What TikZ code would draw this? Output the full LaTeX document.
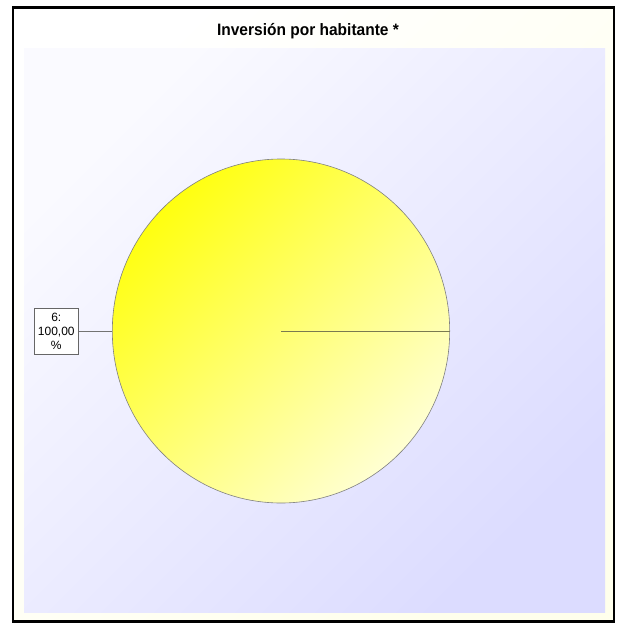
\documentclass[tikz,border=0pt]{standalone}
\usepackage{fontspec}
\setmainfont{Liberation Sans}
\usetikzlibrary{shapes.geometric}
\definecolor{panelbg}{HTML}{FFFFEC}
\definecolor{plotA}{HTML}{FAFAFF}
\definecolor{plotB}{HTML}{DCDCFF}
\definecolor{pieA}{HTML}{FFFF10}
\definecolor{pieB}{HTML}{FFFFD2}
\definecolor{pieline}{HTML}{7A7A50}
\tikzset{
  labelbox/.style={draw=black!60, fill=white, line width=0.6pt, inner sep=1.5pt, align=center, font=\fontsize{12}{14}\selectfont, minimum width=44pt, minimum height=46pt},
  leader/.style={draw=black!55, line width=0.7pt}
}
\begin{document}
\begin{tikzpicture}[x=1pt,y=-1pt]
\useasboundingbox (0,0) rectangle (618,623);
\fill[white] (0,0) rectangle (618,623);
% panel
\shade[top color=white, bottom color=panelbg, shading angle=45] (13,7.5) rectangle (614,621.5);
% plot area
\shade[top color=plotA, bottom color=plotB, shading angle=45] (24,49) rectangle (605,612.5);
% frame
\draw[black, line width=2.6pt] (13,7.5) rectangle (614,621.5);
% title
\node[font=\bfseries\fontsize{16.5}{18}\selectfont, inner sep=0pt] (title) at (308,31) {\scalebox{0.94}[1]{Inversión por habitante *}};
% pie
\coordinate (c) at (281,331);
\shade[top color=pieA, bottom color=pieB, shading angle=45, draw=black!50, line width=0.6pt] (c) ellipse [x radius=168.7, y radius=172];
\coordinate (e) at (449.7,331);
\draw[pieline, line width=0.8pt] (c) -- (e);
% label
\node[labelbox] (lbl) at (56.3,331) {6:\\100,00\\\%};
\coordinate (p) at (112.3,331);
\draw[leader] (lbl.east) -- (p);
\end{tikzpicture}
\end{document}
